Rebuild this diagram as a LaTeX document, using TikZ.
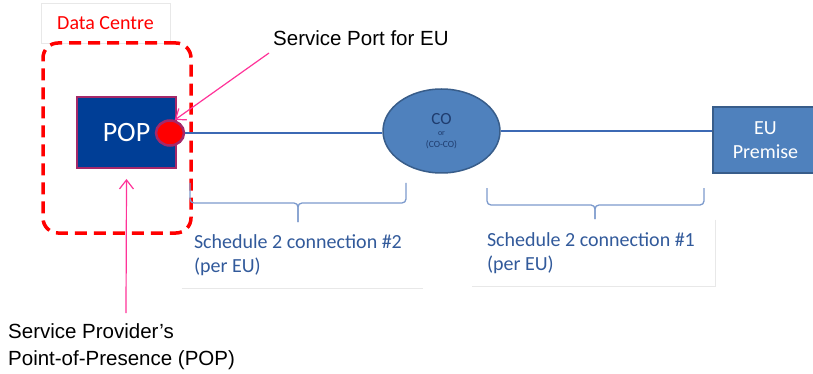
\documentclass[tikz,border=0pt]{standalone}
\usepackage{fontspec}
\setmainfont{Carlito}
\newfontfamily\arialf{Liberation Sans}
\usetikzlibrary{shapes.geometric,arrows.meta,calc}
\definecolor{popblue}{RGB}{0,62,150}
\definecolor{popedge}{RGB}{165,40,105}
\definecolor{midblue}{RGB}{79,129,189}
\definecolor{linkblue}{RGB}{60,105,180}
\definecolor{edgeblue}{RGB}{56,93,138}
\definecolor{cotext}{RGB}{31,60,110}
\definecolor{bracec}{RGB}{125,155,205}
\definecolor{schedc}{RGB}{50,90,155}
\definecolor{pinkc}{RGB}{255,51,153}
\definecolor{faint}{RGB}{232,232,232}
\tikzset{
  popbox/.style={draw=popedge, line width=2pt, fill=popblue, text=white, font=\fontsize{28}{30}\selectfont, minimum width=99pt, minimum height=71pt, inner sep=0pt},
  portdot/.style={ellipse, draw=popedge, line width=2.5pt, fill=red, minimum width=28pt, minimum height=25pt, inner sep=0pt},
  coell/.style={ellipse, draw=edgeblue, line width=1.5pt, fill=midblue, minimum width=117pt, minimum height=84pt, inner sep=0pt, text=cotext, align=center},
  eubox/.style={draw=edgeblue, line width=1.5pt, fill=midblue, text=white, align=center, font=\fontsize{20}{24}\selectfont, minimum width=105pt, minimum height=66pt, inner sep=0pt},
  link/.style={draw=linkblue, line width=1.1pt},
  bracel/.style={draw=bracec, line width=1.3pt, rounded corners=4pt},
  schedbox/.style={minimum height=66pt, inner sep=0pt},
  schedtext/.style={text=schedc, font=\fontsize{20}{24}\selectfont, align=left, inner sep=0pt},
  callout/.style={draw=pinkc, line width=1.2pt, -{Straight Barb[length=9pt,width=14pt]}},
  blacklabel/.style={font=\arialf\fontsize{20.5}{27}\selectfont, inner sep=0pt, align=left},
  dcbox/.style={draw=red, line width=3.5pt, dash pattern=on 12pt off 7pt, rounded corners=15pt, minimum width=148pt, minimum height=190pt},
}
\begin{document}
\begin{tikzpicture}[x=1pt,y=-1pt]
\useasboundingbox[fill=white] (0,0) rectangle (813,374);
% Data centre label and dashed boundary
\node[draw=faint, line width=0.8pt, text=red, font=\fontsize{20}{22}\selectfont, minimum width=129pt, minimum height=40pt, inner sep=0pt] (dc) at (105.5,23) {Data Centre};
\node[dcbox] (dcb) at (117,138) {};
% main nodes
\node[popbox] (pop) at (126.5,132.5) {POP};
\node[coell] (co) at (441.5,131) {\fontsize{17}{17}\selectfont CO\\[-1pt]{\fontsize{8}{9}\selectfont or}\\[0pt]{\fontsize{9.5}{10}\selectfont (CO-CO)}};
\node[eubox] (eu) at (765.5,140) {EU\\Premise};
\node[portdot] (dot) at (170,133) {};
% links
\draw[link] (dot.east) -- (dot.east -| co.west);
\draw[link] (co.east) -- (co.east -| eu.west);
% braces
\draw[bracel] (190,183) -- (190,203) -- (298,203) -- (298,222);
\draw[bracel] (298,222) -- (298,203) -- (406,203) -- (406,183);
\draw[bracel] (487,188) -- (487,205) -- (595,205) -- (595,219);
\draw[bracel] (595,219) -- (595,205) -- (704,205) -- (704,188);
% schedule labels
\node[schedbox, minimum width=241pt] (b1) at (302.5,255) {};
\node[schedbox, minimum width=243pt] (b2) at (593.5,253) {};
\node[schedtext, anchor=west] (s1) at ([xshift=12pt]b1.west) {Schedule 2 connection \#2\\(per EU)};
\node[schedtext, anchor=west] (s2) at ([xshift=15pt]b2.west) {Schedule 2 connection \#1\\(per EU)};
\draw[faint, line width=1pt] (b1.south west) -- (b1.south east);
\draw[faint, line width=1pt] (b2.north east) -- (b2.south east) -- (b2.south west);
% callouts
\node[blacklabel, anchor=west] (spt) at (273,38) {Service Port for EU};
\coordinate (spc) at (269,53);
\draw[callout] (spc) -- (dot.70);
\node[blacklabel, anchor=west] (spp) at (8,346.5) {Service Provider’s\\Point-of-Presence (POP)};
\coordinate (ppc) at (126,313);
\draw[callout] (ppc) -- ([yshift=-10pt]pop.south);
\end{tikzpicture}
\end{document}
